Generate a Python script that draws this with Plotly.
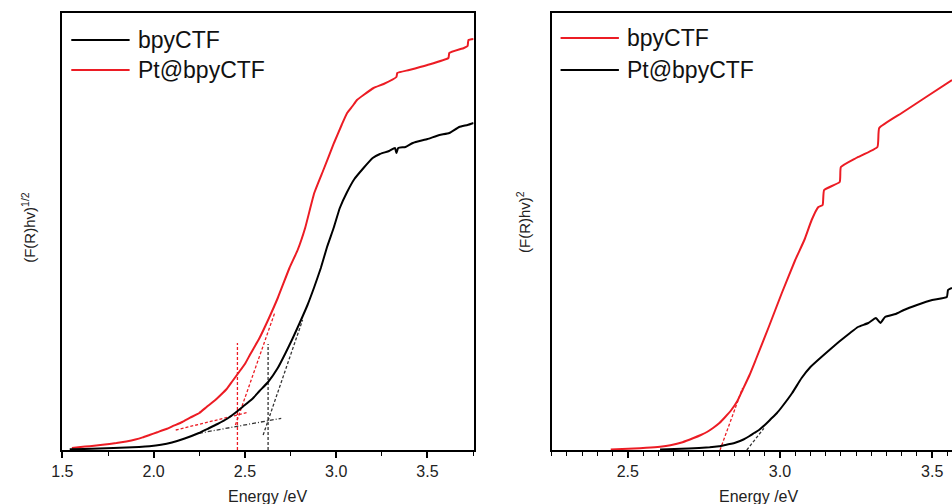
import plotly.graph_objects as go

# ---------------- data (arbitrary units) ----------------
# Left panel: (F(R)hv)^(1/2)
L_bpy_E = [1.54, 1.62, 1.70, 1.78, 1.85, 1.92, 1.977, 2.04, 2.10, 2.17, 2.248, 2.30, 2.35, 2.40, 2.446,
           2.49, 2.54, 2.58, 2.627, 2.68, 2.72, 2.76, 2.80, 2.843, 2.88,
           2.916, 2.95, 2.988, 3.02, 3.06, 3.10, 3.15, 3.20, 3.24, 3.29, 3.322, 3.33, 3.34, 3.38,
           3.42, 3.50, 3.566, 3.62, 3.674, 3.72, 3.753]
L_bpy_Y = [0.8, 1.1, 1.5, 2.0, 2.5, 3.1, 3.8, 5.2, 7.5, 11.5, 17, 21.5, 26, 31, 37,
           43.5, 51, 59, 68, 82, 96, 111, 127, 145, 163,
           182, 203, 223, 242, 258, 271, 282, 292, 296, 299, 302, 297, 302, 303,
           307, 311, 315, 317, 323, 325, 327]

L_pt_E = [1.552, 1.60, 1.65, 1.72, 1.796, 1.85, 1.90, 1.94, 1.977, 2.02, 2.07, 2.11, 2.157, 2.20, 2.25,
          2.29, 2.338, 2.37, 2.40, 2.43, 2.464, 2.50, 2.53, 2.58, 2.627,
          2.68, 2.744, 2.789, 2.83, 2.88, 2.93, 2.988, 3.03, 3.06, 3.09, 3.114, 3.15, 3.205, 3.26,
          3.33, 3.335, 3.40, 3.50, 3.615, 3.62, 3.70, 3.72, 3.725, 3.753]
L_pt_Y = [2.0, 3.0, 3.8, 5.2, 7, 8.6, 10.5, 12.6, 15, 17.8, 21, 24.3, 28, 32.3, 37,
          43, 50, 55.5, 61, 68.5, 77, 86, 96, 112, 130,
          152, 182, 200, 222, 257, 280, 307, 325, 337, 344, 350, 355, 362, 366,
          373, 377, 380, 385, 392, 397, 402, 404, 410, 411]

# tangent / baseline construction lines, left panel
L_pt_vert_E = [2.459, 2.459]
L_pt_vert_Y = [0, 107]
L_bpy_vert_E = [2.627, 2.627]
L_bpy_vert_Y = [0, 106]
L_pt_base_E = [2.121, 2.509]
L_pt_base_Y = [20, 37.3]
L_pt_tan_E = [2.448, 2.665]
L_pt_tan_Y = [25, 138]
L_bpy_base_E = [2.248, 2.699]
L_bpy_base_Y = [16.7, 31.7]
L_bpy_tan_E = [2.600, 2.816]
L_bpy_tan_Y = [15, 130]

# Right panel: (F(R)hv)^2
R_bpy_E = [2.444, 2.52, 2.56, 2.606, 2.64, 2.68, 2.714, 2.74, 2.76, 2.78, 2.801, 2.82, 2.84, 2.86, 2.877,
           2.90, 2.92, 2.963, 3.006, 3.05,
           3.08, 3.104, 3.126, 3.14, 3.145, 3.196, 3.20, 3.25, 3.32, 3.326, 3.40, 3.48, 3.565]
R_bpy_Y = [0.5, 1.5, 2.2, 3.3, 4.8, 7.8, 11.7, 15, 18, 22, 27, 33, 40, 49, 60,
           75, 90, 123, 157, 190,
           210, 230, 243, 245, 260, 268, 283, 292, 303, 322, 337, 353, 370]

R_pt_E = [2.606, 2.70, 2.769, 2.80, 2.82, 2.84, 2.855, 2.88, 2.90, 2.915, 2.931, 2.95, 2.97, 2.99, 3.006,
          3.04, 3.071, 3.10, 3.136,
          3.17, 3.201, 3.23, 3.256, 3.29, 3.315, 3.33, 3.345, 3.38, 3.407, 3.45, 3.50, 3.548,
          3.552, 3.565]
R_pt_Y = [0.5, 1.5, 2.7, 3.8, 5, 6.2, 7.5, 10.5, 14, 17, 20, 25, 31, 37, 43,
          57, 72, 83, 93,
          102, 110, 117, 123, 127, 132, 127, 133, 136, 140, 145, 150, 153,
          160, 162]

R_bpy_tan_E = [2.803, 2.877]
R_bpy_tan_Y = [0, 62]
R_pt_tan_E = [2.891, 2.947]
R_pt_tan_Y = [0, 21.7]

RED = "#ec1c24"
BLACK = "#000000"
FONT = "Arial, Liberation Sans, sans-serif"

fig = go.Figure()

def line(x, y, color, xa, ya, width=2, dash=None):
    fig.add_trace(go.Scatter(x=x, y=y, mode="lines", xaxis=xa, yaxis=ya,
                             line=dict(color=color, width=width, dash=dash, shape="spline", smoothing=0.4),
                             showlegend=False, hoverinfo="skip"))

def sline(x, y, color, xa, ya, width=1.3, dash=None):
    fig.add_trace(go.Scatter(x=x, y=y, mode="lines", xaxis=xa, yaxis=ya,
                             line=dict(color=color, width=width, dash=dash),
                             showlegend=False, hoverinfo="skip"))

# left construction lines
dsh = "3px,2px"
sline(L_pt_vert_E, L_pt_vert_Y, RED, "x", "y", 1.3, dsh)
sline(L_bpy_vert_E, L_bpy_vert_Y, "#333333", "x", "y", 1.3, dsh)
sline(L_pt_base_E, L_pt_base_Y, RED, "x", "y", 1.3, dsh)
sline(L_pt_tan_E, L_pt_tan_Y, RED, "x", "y", 1.3, dsh)
sline(L_bpy_base_E, L_bpy_base_Y, "#333333", "x", "y", 1.3, "4px,2px,1px,2px")
sline(L_bpy_tan_E, L_bpy_tan_Y, "#333333", "x", "y", 1.3, dsh)
# left curves
line(L_pt_E, L_pt_Y, RED, "x", "y")
line(L_bpy_E, L_bpy_Y, BLACK, "x", "y")

# right construction lines
sline(R_bpy_tan_E, R_bpy_tan_Y, RED, "x2", "y2", 1.3, dsh)
sline(R_pt_tan_E, R_pt_tan_Y, "#333333", "x2", "y2", 1.3, dsh)
# right curves
line(R_pt_E, R_pt_Y, BLACK, "x2", "y2")
line(R_bpy_E, R_bpy_Y, RED, "x2", "y2")

W, H = 952, 504
L0, L1 = 52 / W, 468 / W
R0, R1 = 547 / W, 1.0
B, T = (H - 450) / H, (H - 13) / H

axcommon = dict(showline=True, linecolor="black", linewidth=2, showgrid=False, zeroline=False,
                ticks="outside", tickcolor="black", tickwidth=1.5, ticklen=6,
                tickfont=dict(family=FONT, size=16, color="#222"))

fig.update_layout(
    width=W, height=H, margin=dict(l=0, r=0, t=0, b=0),
    paper_bgcolor="white", plot_bgcolor="white", showlegend=False,
    xaxis=dict(domain=[L0, L1], range=[1.5, 3.753], anchor="y", mirror=True,
               tickvals=[1.5, 2.0, 2.5, 3.0, 3.5], ticktext=["1.5", "2.0", "2.5", "3.0", "3.5"],
               minor=dict(dtick=0.25, tick0=1.5, ticks="outside", ticklen=4, tickcolor="black", tickwidth=1.2),
               **axcommon),
    yaxis=dict(domain=[B, T], range=[0, 437], anchor="x", mirror=True, showline=True,
               linecolor="black", linewidth=2, showgrid=False, zeroline=False,
               ticks="", showticklabels=False),
    xaxis2=dict(domain=[R0, R1], range=[2.25, 3.565], anchor="y2", mirror=True,
                tickvals=[2.5, 3.0, 3.5], ticktext=["2.5", "3.0", "3.5"],
                minor=dict(dtick=0.05, tick0=2.25, ticks="outside", ticklen=4, tickcolor="black", tickwidth=1.2),
                **axcommon),
    yaxis2=dict(domain=[B, T], range=[0, 437], anchor="x2", mirror=False, showline=True,
                linecolor="black", linewidth=2, showgrid=False, zeroline=False,
                ticks="", showticklabels=False),
)

ann = []
# axis titles
ann.append(dict(text="Energy /eV", x=(L0 + L1) / 2, y=(H - 496) / H, xref="paper", yref="paper",
                showarrow=False, font=dict(family=FONT, size=16, color="#222"), xanchor="center", yanchor="middle"))
ann.append(dict(text="Energy /eV", x=756 / W, y=(H - 496) / H, xref="paper", yref="paper",
                showarrow=False, font=dict(family=FONT, size=16, color="#222"), xanchor="center", yanchor="middle"))
ann.append(dict(text="(F(R)hv)<sup>1/2</sup>", x=18 / W, y=(H - 227) / H, xref="paper", yref="paper",
                showarrow=False, textangle=-90, font=dict(family=FONT, size=15, color="#222"),
                xanchor="center", yanchor="middle"))
ann.append(dict(text="(F(R)hv)<sup>2</sup>", x=518 / W, y=(H - 222) / H, xref="paper", yref="paper",
                showarrow=False, textangle=-90, font=dict(family=FONT, size=15, color="#222"),
                xanchor="center", yanchor="middle"))

# legends (drawn as keys + text)
shapes = []
legends = [
    (61, 120, 126, [(40, BLACK, "bpyCTF"), (70, RED, "Pt@bpyCTF")]),
    (556, 615, 621, [(38, RED, "bpyCTF"), (70, BLACK, "Pt@bpyCTF")]),
]
for xa, xb, xt, items in legends:
    for yy, col, label in items:
        shapes.append(dict(type="line", xref="paper", yref="paper", x0=xa / W, x1=xb / W,
                           y0=(H - yy) / H, y1=(H - yy) / H, line=dict(color=col, width=2)))
        ann.append(dict(text=label, x=xt / W, y=(H - yy) / H, xref="paper", yref="paper",
                        showarrow=False, xanchor="left", yanchor="middle",
                        font=dict(family=FONT, size=23, color="#111")))

fig.update_layout(annotations=ann, shapes=shapes)
fig.write_html("out.html", config={"displayModeBar": False},
               post_script="document.body.style.margin='0';document.body.style.padding='0';"
                           "document.body.style.overflow='hidden';"
                           "document.documentElement.style.overflow='hidden';")
